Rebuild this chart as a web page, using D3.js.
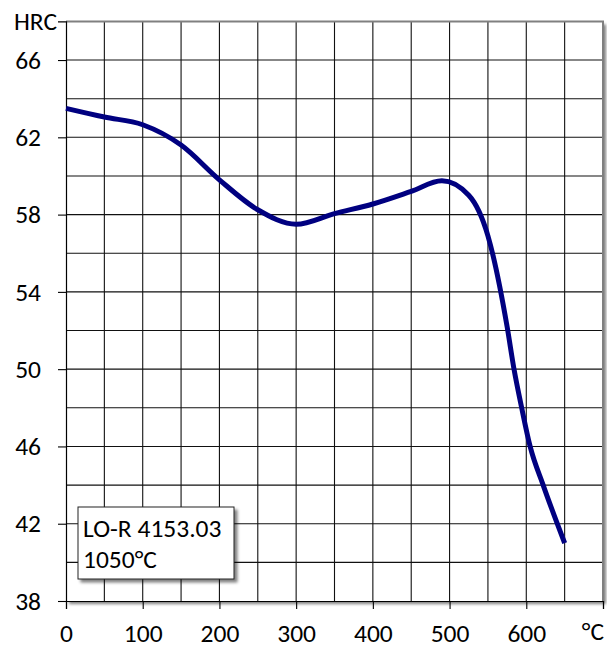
<!DOCTYPE html>
<html>
<head>
<meta charset="utf-8">
<script src="https://cdn.jsdelivr.net/npm/d3@7"></script>
<style>
  html, body { margin: 0; padding: 0; background: #fff; overflow: hidden; }
  svg { display: block; }
  svg text { font-family: Carlito, 'Open Sans', sans-serif; fill: #000; }
</style>
</head>
<body>
<svg id="chart"></svg>
<script>
const WIDTH = 607;
const HEIGHT = 648;
const MARGIN = { top: 21.4, right: 4, bottom: 47, left: 66 };
const FONT = '25.5px';

// tempering curve
const temperature = [0, 50, 100, 150, 200, 250, 300, 350, 400, 450, 490, 525, 550, 575, 584, 594, 605, 622, 650];
const hardness = [63.5, 63.05, 62.65, 61.6, 59.8, 58.25, 57.5, 58.05, 58.55, 59.2, 59.75, 59.0, 56.9, 52.2, 50.0, 48.0, 46.0, 44.0, 41.0];

const xTicks = [0, 100, 200, 300, 400, 500, 600, 700];
const xLabels = ['0', '100', '200', '300', '400', '500', '600', ''];
const yTicks = [38, 42, 46, 50, 54, 58, 62, 66];
const xGrid = d3.range(50, 700, 50);
const yGrid = d3.range(40, 68, 2);
const legendLines = ['LO-R 4153.03', '1050°C'];

const w = WIDTH - MARGIN.left - MARGIN.right;
const h = HEIGHT - MARGIN.top - MARGIN.bottom;

const svg = d3.select('#chart')
  .attr('width', WIDTH)
  .attr('height', HEIGHT);

const defs = svg.append('defs');
const shadow = defs.append('filter').attr('id', 'shadow')
  .attr('x', -0.1).attr('y', -0.1).attr('width', 1.3).attr('height', 1.3);
shadow.append('feGaussianBlur').attr('in', 'SourceAlpha').attr('stdDeviation', 1.5);
shadow.append('feOffset').attr('dx', 2.5).attr('dy', 2.5).attr('result', 'off');
shadow.append('feComponentTransfer').append('feFuncA').attr('type', 'linear').attr('slope', 0.5);
const merge = shadow.append('feMerge');
merge.append('feMergeNode');
merge.append('feMergeNode').attr('in', 'SourceGraphic');

const chart = svg.append('g')
  .attr('transform', `translate(${MARGIN.left}, ${MARGIN.top})`);

const x = d3.scaleLinear().domain([0, 700]).range([0, w]);
const y = d3.scaleLinear().domain([38, 68]).range([h, 0]);

// plot area with its drop shadow
chart.append('rect')
  .attr('width', w).attr('height', h)
  .attr('fill', '#fff')
  .attr('filter', 'url(#shadow)');

// grid
chart.append('g').selectAll('line')
  .data(xGrid)
  .enter().append('line')
  .attr('x1', d => x(d)).attr('x2', d => x(d))
  .attr('y1', 0).attr('y2', h)
  .attr('stroke', '#111').attr('stroke-width', 1.1);

chart.append('g').selectAll('line')
  .data(yGrid)
  .enter().append('line')
  .attr('x1', 0).attr('x2', w)
  .attr('y1', d => y(d)).attr('y2', d => y(d))
  .attr('stroke', '#111').attr('stroke-width', 1.1);

// frame: grey top/right, black axes
chart.append('path')
  .attr('d', `M0,0H${w}V${h}`)
  .attr('fill', 'none')
  .attr('stroke', '#808080').attr('stroke-width', 2);

// axes
const xAxis = chart.append('g')
  .attr('transform', `translate(0, ${h})`)
  .call(d3.axisBottom(x)
    .tickValues(xTicks)
    .tickFormat((d, i) => xLabels[i])
    .tickSize(8)
    .tickPadding(15));

const yAxis = chart.append('g')
  .call(d3.axisLeft(y)
    .tickValues(yTicks)
    .tickFormat(d3.format('d'))
    .tickSize(8)
    .tickPadding(17));

[xAxis, yAxis].forEach(a => {
  a.select('.domain').attr('stroke', '#000').attr('stroke-width', 1.2);
  a.selectAll('.tick line').attr('stroke', '#000').attr('stroke-width', 1.1);
  a.selectAll('text').style('font-size', FONT).attr('fill', '#000');
});

// curve
const line = d3.line()
  .x((d, i) => x(temperature[i]))
  .y(d => y(d))
  .curve(d3.curveMonotoneX);

chart.append('path')
  .datum(hardness)
  .attr('d', line)
  .attr('fill', 'none')
  .attr('stroke', '#000080')
  .attr('stroke-width', 5)
  .attr('stroke-linejoin', 'round');

// axis titles
svg.append('text')
  .attr('x', 57).attr('y', 30)
  .attr('text-anchor', 'end')
  .style('font-size', FONT)
  .text('HRC');

svg.append('text')
  .attr('x', 604).attr('y', 640)
  .attr('text-anchor', 'end')
  .style('font-size', FONT)
  .text('°C');

// legend box
const legend = svg.append('g').attr('transform', 'translate(78, 507)');
legend.append('rect')
  .attr('width', 156).attr('height', 72)
  .attr('fill', '#fff')
  .attr('stroke', '#222').attr('stroke-width', 1)
  .attr('filter', 'url(#shadow)');
legend.selectAll('text')
  .data(legendLines)
  .enter().append('text')
  .attr('x', 5)
  .attr('y', (d, i) => 30 + i * 31)
  .style('font-size', FONT)
  .text(d => d);
</script>
</body>
</html>
